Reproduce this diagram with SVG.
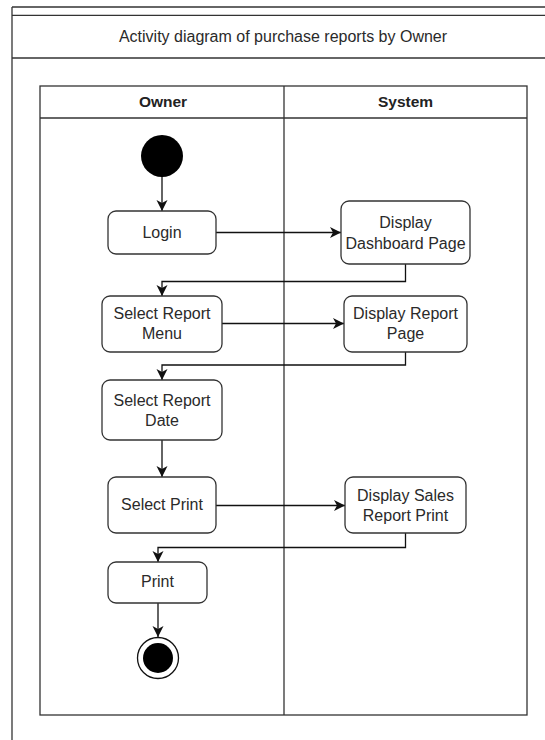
<svg xmlns="http://www.w3.org/2000/svg" width="545" height="740" viewBox="0 0 545 740">
  <style>
    .frame { fill: none; stroke: #333; stroke-width: 1.3; }
    .lane { fill: none; stroke: #333; stroke-width: 1.3; }
    .act { fill: #fff; stroke: #333; stroke-width: 1.3; }
    .label { font-family: "Liberation Sans", Arial, sans-serif; font-size: 16px; fill: #2a2a2a; text-anchor: middle; }
    .head { font-family: "Liberation Sans", Arial, sans-serif; font-size: 15.5px; font-weight: bold; fill: #222; text-anchor: middle; }
    .flow { fill: none; stroke: #111; stroke-width: 1.3; marker-end: url(#arrow); }
  </style>
  <defs>
    <marker id="arrow" markerUnits="userSpaceOnUse" markerWidth="12" markerHeight="12" refX="11" refY="5.5" orient="auto">
      <path d="M0,0 L11,5.5 L0,11 L3,5.5 Z" fill="#111"/>
    </marker>
  </defs>

  <rect width="545" height="740" fill="#fff"/>

  <!-- outer frame and title bar -->
  <g id="frame">
    <line class="frame" x1="12" y1="7" x2="546" y2="7" stroke="#222"/>
    <line class="frame" x1="12" y1="15.3" x2="546" y2="15.3"/>
    <line class="frame" x1="12" y1="58" x2="546" y2="58"/>
    <line class="frame" x1="12" y1="7" x2="12" y2="741" stroke="#222"/>
    <text class="label" x="283" y="42">Activity diagram of purchase reports by Owner</text>
  </g>

  <!-- swimlanes -->
  <g id="lanes">
    <rect class="lane" x="40" y="86" width="487" height="629"/>
    <line class="lane" x1="40" y1="118" x2="527" y2="118"/>
    <line class="lane" x1="284" y1="86" x2="284" y2="715"/>
    <text class="head" x="163" y="107">Owner</text>
    <text class="head" x="405.5" y="107">System</text>
  </g>

  <!-- control flows -->
  <g id="connectors">
    <path class="flow" d="M162,177 V211"/>
    <path class="flow" d="M216,232.5 H341"/>
    <path class="flow" d="M405.5,264 V281.5 H162 V296"/>
    <path class="flow" d="M222,323.5 H344"/>
    <path class="flow" d="M405.5,352 V365 H162 V380"/>
    <path class="flow" d="M162,440 V477"/>
    <path class="flow" d="M216,505.5 H345"/>
    <path class="flow" d="M405.5,533 V547.5 H158 V562"/>
    <path class="flow" d="M158,603 V637"/>
  </g>

  <g id="start">
    <circle cx="162" cy="156" r="21" fill="#000"/>
  </g>

  <g id="login">
    <rect class="act" x="108" y="211" width="108" height="43" rx="8"/>
    <text class="label" x="162" y="238">Login</text>
  </g>

  <g id="display-dashboard">
    <rect class="act" x="341" y="201" width="129" height="63" rx="8"/>
    <text class="label" x="405.5" y="227.5">Display</text>
    <text class="label" x="405.5" y="248.5">Dashboard Page</text>
  </g>

  <g id="select-report-menu">
    <rect class="act" x="102" y="296" width="120" height="56" rx="8"/>
    <text class="label" x="162" y="318.5">Select Report</text>
    <text class="label" x="162" y="338.5">Menu</text>
  </g>

  <g id="display-report">
    <rect class="act" x="344" y="296" width="123" height="56" rx="8"/>
    <text class="label" x="405.5" y="318.5">Display Report</text>
    <text class="label" x="405.5" y="338.5">Page</text>
  </g>

  <g id="select-report-date">
    <rect class="act" x="102" y="380" width="120" height="60" rx="8"/>
    <text class="label" x="162" y="405.5">Select Report</text>
    <text class="label" x="162" y="425.5">Date</text>
  </g>

  <g id="select-print">
    <rect class="act" x="108" y="477" width="108" height="56" rx="8"/>
    <text class="label" x="162" y="510">Select Print</text>
  </g>

  <g id="display-sales-report">
    <rect class="act" x="345" y="477" width="121" height="56" rx="8"/>
    <text class="label" x="405.5" y="500.5">Display Sales</text>
    <text class="label" x="405.5" y="521">Report Print</text>
  </g>

  <g id="print">
    <rect class="act" x="108" y="562" width="99" height="41" rx="8"/>
    <text class="label" x="157.5" y="587">Print</text>
  </g>

  <g id="end">
    <circle cx="158" cy="658" r="20.5" fill="#fff" stroke="#111" stroke-width="1.3"/>
    <circle cx="158" cy="658" r="15" fill="#000"/>
  </g>
</svg>
